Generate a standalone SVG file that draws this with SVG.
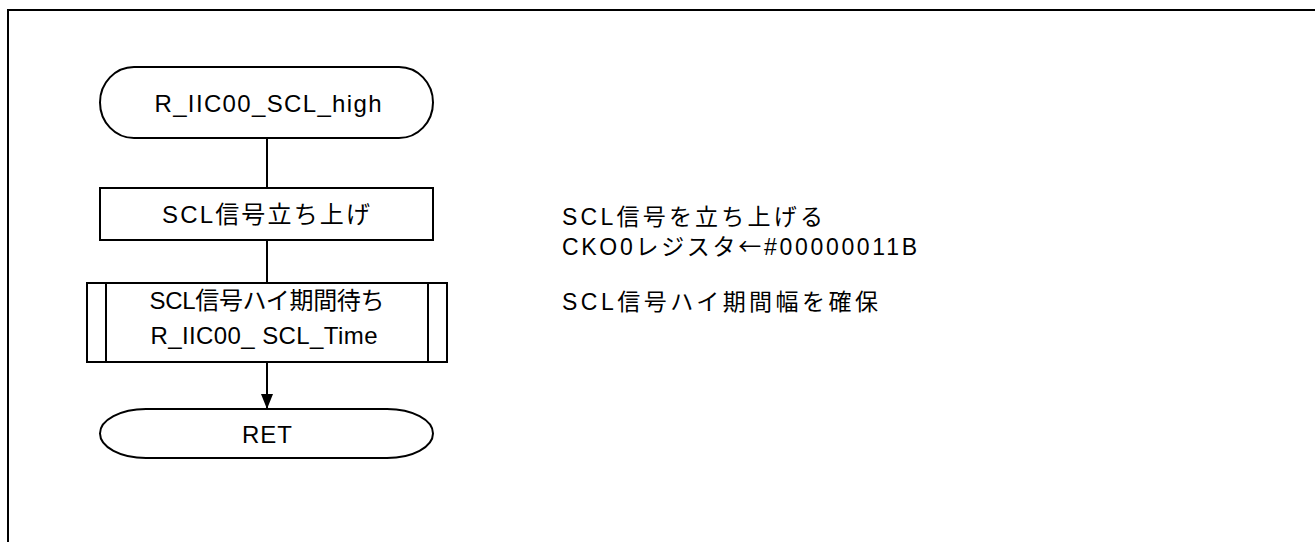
<svg xmlns="http://www.w3.org/2000/svg" width="1315" height="542" viewBox="0 0 1315 542">
<style>
.s{fill:#fff;stroke:#000;stroke-width:2}
.c{fill:none;stroke:#000;stroke-width:2}
text{font-family:"Liberation Sans","Noto Sans CJK JP",sans-serif;font-size:24px;fill:#000}
.m{text-anchor:middle}
.n{font-size:23px}
.j{font-family:"Noto Sans CJK JP",sans-serif}
</style>
<defs>
<marker id="ah" markerUnits="userSpaceOnUse" markerWidth="16" markerHeight="12" refX="15" refY="6" orient="auto">
<path d="M0,0 L15,6 L0,12 Z" fill="#000"/>
</marker>
</defs>
<rect width="1315" height="542" fill="#fff"/>
<path class="c" d="M8,542 V10 H1315"/>
<g id="connectors">
<line class="c" x1="267" y1="138" x2="267" y2="188"/>
<line class="c" x1="267" y1="240" x2="267" y2="283"/>
<line class="c" x1="267" y1="362" x2="267" y2="409" marker-end="url(#ah)"/>
</g>
<g id="start">
<rect class="s" x="100" y="67" width="333" height="71" rx="34" ry="35.5"/>
<text class="m" x="268" y="112" textLength="227" lengthAdjust="spacing">R_IIC00_SCL_high</text>
</g>
<g id="scl_up">
<rect class="s" x="100" y="188" width="333" height="52"/>
<text class="m" x="266" y="223" textLength="208" lengthAdjust="spacing">SCL信号立ち上げ</text>
</g>
<g id="wait">
<rect class="s" x="87" y="283" width="360" height="79"/>
<line class="c" x1="106" y1="283" x2="106" y2="362"/>
<line class="c" x1="428" y1="283" x2="428" y2="362"/>
<text class="m" x="267" y="309" textLength="235" lengthAdjust="spacing">SCL信号ハイ期間待ち</text>
<text class="m" x="264" y="344" textLength="227" lengthAdjust="spacing">R_IIC00_ SCL_Time</text>
</g>
<g id="ret">
<rect class="s" x="100" y="409" width="333" height="49" rx="46" ry="24.5"/>
<text class="m" x="267" y="443" textLength="50" lengthAdjust="spacing">RET</text>
</g>
<g id="notes">
<text class="n" x="562" y="225" textLength="261" lengthAdjust="spacing">SCL信号を立ち上げる</text>
<text class="n" x="562" y="255" textLength="355" lengthAdjust="spacing">CKO0レジスタ<tspan class="j">←</tspan>#00000011B</text>
<text class="n" x="562" y="310" textLength="316" lengthAdjust="spacing">SCL信号ハイ期間幅を確保</text>
</g>
</svg>
